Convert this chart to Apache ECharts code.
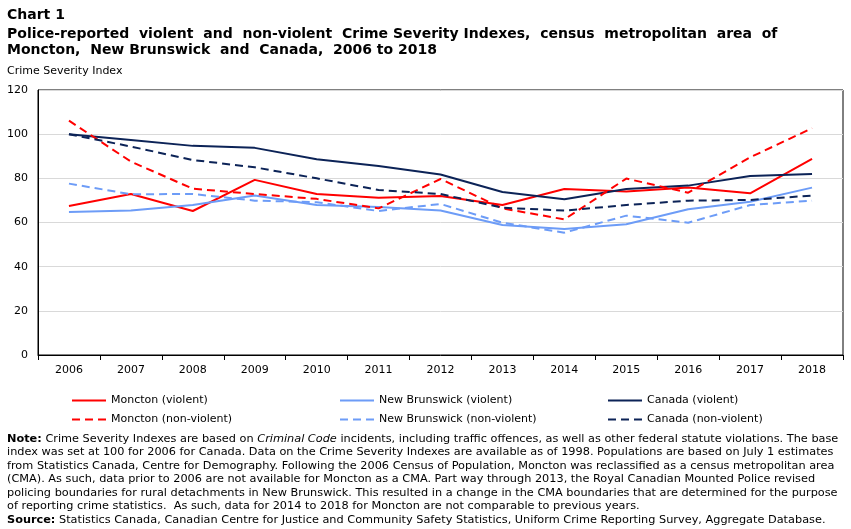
<!DOCTYPE html>
<html>
<head>
<meta charset="utf-8">
<script src="https://cdn.jsdelivr.net/npm/echarts@6/dist/echarts.min.js"></script>
<style>
  html, body { margin: 0; padding: 0; background: #fff; }
  #chart { width: 851px; height: 529px; }
</style>
</head>
<body>
<div id="chart"></div>
<script>
const years = ['2006', '2007', '2008', '2009', '2010', '2011', '2012', '2013', '2014', '2015', '2016', '2017', '2018'];
const monctonViolent = [67.5, 72.9, 65.2, 79.3, 72.9, 71.2, 72.0, 67.9, 75.2, 74.0, 75.9, 73.2, 88.8];
const monctonNonViolent = [106.1, 87.6, 75.3, 72.9, 70.7, 66.4, 79.7, 66.4, 61.4, 79.9, 73.5, 89.5, 102.7];
const nbViolent = [64.8, 65.4, 67.9, 72.2, 67.9, 67.0, 65.4, 58.9, 57.1, 59.2, 66.0, 69.4, 75.8];
const nbNonViolent = [77.6, 72.8, 72.9, 69.9, 69.2, 65.2, 68.4, 59.9, 55.4, 63.1, 59.9, 67.9, 69.9];
const canadaViolent = [100, 97.4, 94.7, 93.8, 88.6, 85.6, 81.7, 73.8, 70.5, 75.2, 76.7, 81.1, 82.0];
const canadaNonViolent = [100, 94.4, 88.3, 85.0, 80.0, 74.7, 72.9, 66.7, 65.4, 67.9, 69.9, 70.2, 72.2];

const noteLines = [
  '{b|Note:} Crime Severity Indexes are based on {i|Criminal Code} incidents, including traffic offences, as well as other federal statute violations. The base',
  'index was set at 100 for 2006 for Canada. Data on the Crime Severity Indexes are available as of 1998. Populations are based on July 1 estimates',
  'from Statistics Canada, Centre for Demography. Following the 2006 Census of Population, Moncton was reclassified as a census metropolitan area',
  '(CMA). As such, data prior to 2006 are not available for Moncton as a CMA. Part way through 2013, the Royal Canadian Mounted Police revised',
  'policing boundaries for rural detachments in New Brunswick. This resulted in a change in the CMA boundaries that are determined for the purpose',
  'of reporting crime statistics.  As such, data for 2014 to 2018 for Moncton are not comparable to previous years.',
  '{b|Source:} Statistics Canada, Canadian Centre for Justice and Community Safety Statistics, Uniform Crime Reporting Survey, Aggregate Database.'
];

const RED = '#ff0000', LIGHT = '#6d9cf7', NAVY = '#0c2357';
const FONT = 'DejaVu Sans';
const NOTE_SIZE = 11.3;

function mk(name, data, color, dashed) {
  return {
    name: name, type: 'line', data: data, symbol: 'none', silent: true,
    lineStyle: { color: color, width: 2, type: dashed ? [8, 5] : 'solid' },
    itemStyle: { color: color }
  };
}

function leg(name, left, top) {
  return {
    data: [name], left: left, top: top, itemWidth: 34, itemHeight: 12, itemGap: 0,
    padding: 0, selectedMode: false,
    itemStyle: { opacity: 0 },
    textStyle: { fontFamily: FONT, fontSize: 11, color: '#000' }
  };
}

const chart = echarts.init(document.getElementById('chart'), null, { renderer: 'canvas' });
chart.setOption({
  animation: false,
  title: [
    { text: 'Chart 1', left: 7, top: 8, padding: 0,
      textStyle: { fontFamily: FONT, fontWeight: 'bold', fontSize: 14, color: '#000' } },
    { text: 'Police-reported  violent  and  non-violent  Crime Severity Indexes,  census  metropolitan  area  of\nMoncton,  New Brunswick  and  Canada,  2006 to 2018',
      left: 7, top: 26, padding: 0,
      textStyle: { fontFamily: FONT, fontWeight: 'bold', fontSize: 14, lineHeight: 16.5, color: '#000' } },
    { text: 'Crime Severity Index', left: 7, top: 66, padding: 0,
      textStyle: { fontFamily: FONT, fontWeight: 'normal', fontSize: 11, color: '#000' } }
  ],
  grid: { left: 38, right: 8, top: 90, bottom: 174, show: true, borderColor: '#000', borderWidth: 1 },
  xAxis: {
    type: 'category', data: years, boundaryGap: true,
    axisLine: { lineStyle: { color: '#000' } },
    axisTick: { show: true, length: 5, lineStyle: { color: '#000' } },
    axisLabel: { color: '#000', fontFamily: FONT, fontSize: 11, margin: 10 }
  },
  yAxis: {
    type: 'value', min: 0, max: 120, interval: 20,
    axisLine: { show: true, lineStyle: { color: '#000' } },
    axisTick: { show: false },
    axisLabel: { color: '#000', fontFamily: FONT, fontSize: 11, margin: 10 },
    splitLine: { lineStyle: { color: '#d9d9d9' } }
  },
  legend: [
    leg('Moncton (violent)', 71, 395),
    leg('New Brunswick (violent)', 339, 395),
    leg('Canada (violent)', 607, 395),
    leg('Moncton (non-violent)', 71, 414),
    leg('New Brunswick (non-violent)', 339, 414),
    leg('Canada (non-violent)', 607, 414)
  ],
  series: [
    mk('Moncton (violent)', monctonViolent, RED, false),
    mk('New Brunswick (violent)', nbViolent, LIGHT, false),
    mk('Canada (violent)', canadaViolent, NAVY, false),
    mk('Moncton (non-violent)', monctonNonViolent, RED, true),
    mk('New Brunswick (non-violent)', nbNonViolent, LIGHT, true),
    mk('Canada (non-violent)', canadaNonViolent, NAVY, true)
  ],
  graphic: [{
    type: 'text', left: 7, top: 432, silent: true,
    style: {
      text: noteLines.join('\n'),
      font: NOTE_SIZE + 'px "DejaVu Sans"', fill: '#000', lineHeight: 13.5,
      rich: {
        b: { fontWeight: 'bold', fontFamily: FONT, fontSize: NOTE_SIZE, lineHeight: 13.5 },
        i: { fontStyle: 'italic', fontFamily: FONT, fontSize: NOTE_SIZE, lineHeight: 13.5 }
      }
    }
  }]
});
</script>
</body>
</html>
